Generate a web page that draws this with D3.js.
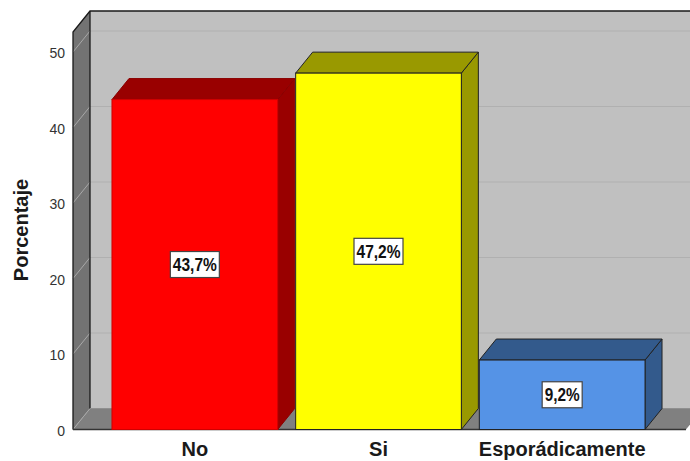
<!DOCTYPE html>
<html><head><meta charset="utf-8">
<script src="https://cdn.jsdelivr.net/npm/d3@7/dist/d3.min.js"></script>
<style>html,body{margin:0;padding:0;background:#fff}svg{display:block}text{font-family:"Liberation Sans",Arial,sans-serif}</style>
</head><body><div id="c"></div>
<script>
const categories = ["No", "Si", "Esporádicamente"];
const values = [43.7, 47.2, 9.2];
const valueLabels = ["43,7%", "47,2%", "9,2%"];
const yTicks = [0, 10, 20, 30, 40, 50];
const frontColors = ["#ff0000", "#ffff00", "#5593e6"];
const sideColors = ["#990000", "#999900", "#335a8c"];
const yTitle = "Porcentaje";

const W = 690, H = 461, DX = 17, DY = -21;
const svg = d3.select("#c").append("svg").attr("width", W).attr("height", H);
const x = d3.scaleBand().domain(categories).range([103, 654]).paddingInner(18 / 184).paddingOuter(9 / 184);
const y = d3.scaleLinear().domain([0, 50]).range([429.5, 52]);
const yTop = 32, xL = 73, xR = 686;
const line = d3.line();

svg.append("rect").attr("x", xL + DX).attr("y", yTop + DY).attr("width", xR - xL).attr("height", y(0) - yTop)
  .attr("fill", "#c0c0c0");
svg.append("path").attr("d", line([[xL, yTop], [xL + DX, yTop + DY], [xL + DX, y(0) + DY], [xL, y(0)]]) + "Z")
  .attr("fill", "#737373");
svg.append("path").attr("d", line([[xL, y(0)], [xL + DX, y(0) + DY], [xR + DX, y(0) + DY], [xR, y(0)]]) + "Z")
  .attr("fill", "#808080");
const grid = yTicks.filter(d => d > 0);
svg.append("g").selectAll("line").data(grid).join("line")
  .attr("x1", xL + DX).attr("x2", W).attr("y1", d => y(d) + DY).attr("y2", d => y(d) + DY)
  .attr("stroke", "#b0b0b0").attr("stroke-width", 1);
svg.append("g").selectAll("line").data(yTicks).join("line")
  .attr("x1", xL).attr("x2", xL + DX).attr("y1", d => y(d)).attr("y2", d => y(d) + DY)
  .attr("stroke", "#a8a8a8").attr("stroke-width", 1);
const frame = svg.append("g").attr("fill", "none").attr("stroke", "#1a1a1a").attr("stroke-width", 1.3);
frame.append("path").attr("d", line([[xL, y(0)], [xL, yTop], [xL + DX, yTop + DY], [W, yTop + DY]]));
frame.append("path").attr("d", line([[xL + DX, yTop + DY], [xL + DX, y(0) + DY]]));
frame.append("path").attr("d", line([[xL, y(0)], [xR, y(0)]])).attr("stroke", "#333");
svg.append("path").attr("d", line([[xL + DX, y(0) + DY], [W, y(0) + DY]])).attr("stroke", "#8f8f8f").attr("stroke-width", 1);

const bars = svg.append("g").selectAll("g").data(categories).join("g");
bars.each(function (c, i) {
  const g = d3.select(this), x0 = x(c), x1 = x0 + x.bandwidth(), yT = y(values[i]), yB = y(0);
  const dark = "#222";
  g.append("path").attr("d", line([[x1, yB], [x1 + DX, yB + DY], [x1 + DX, yT + DY], [x1, yT]]) + "Z")
    .attr("fill", sideColors[i]).attr("stroke", i === 0 ? "#8a0000" : dark).attr("stroke-width", 1);
  g.append("path").attr("d", line([[x0, yT], [x0 + DX, yT + DY], [x1 + DX, yT + DY], [x1, yT]]) + "Z")
    .attr("fill", sideColors[i]).attr("stroke", i === 0 ? "#8a0000" : dark).attr("stroke-width", 1);
  g.append("rect").attr("x", x0).attr("y", yT).attr("width", x.bandwidth()).attr("height", yB - yT)
    .attr("fill", frontColors[i]).attr("stroke", i === 0 ? "#d00000" : dark).attr("stroke-width", 1);
  const cx = x0 + x.bandwidth() / 2, cy = (yT + yB) / 2;
  const w = i === 2 ? 40 : 49, h = 26;
  g.append("rect").attr("x", cx - w / 2).attr("y", cy - h / 2).attr("width", w).attr("height", h)
    .attr("fill", "#fff").attr("stroke", "#444").attr("stroke-width", 1.2);
  g.append("text").attr("x", cx).attr("y", cy + 6.5).attr("text-anchor", "middle")
    .attr("font-size", 18).attr("font-weight", "bold").attr("fill", "#111")
    .attr("textLength", w - 5).attr("lengthAdjust", "spacingAndGlyphs").text(valueLabels[i]);
});

svg.append("g").selectAll("text").data(yTicks).join("text")
  .attr("x", 65).attr("y", d => y(d) + 6).attr("text-anchor", "end")
  .attr("font-size", 14).attr("fill", "#333").text(d => d);
svg.append("g").selectAll("text").data(categories).join("text")
  .attr("x", d => x(d) + x.bandwidth() / 2).attr("y", 456).attr("text-anchor", "middle")
  .attr("font-size", 20).attr("font-weight", "bold").attr("fill", "#1a1a1a").text(d => d);
svg.append("text").attr("transform", "translate(28,230) rotate(-90)").attr("text-anchor", "middle")
  .attr("font-size", 20).attr("font-weight", "bold").attr("fill", "#1a1a1a").text(yTitle);
</script></body></html>
